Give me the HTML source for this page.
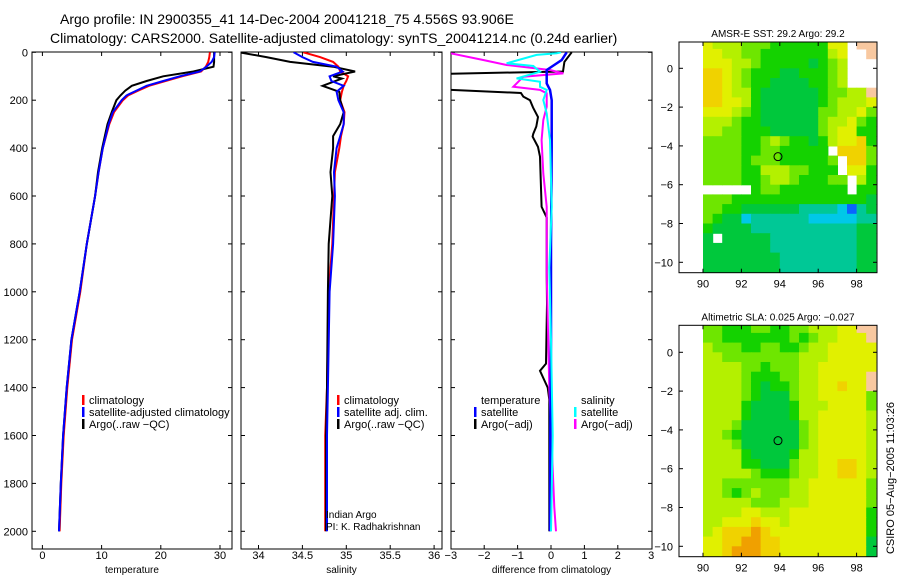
<!DOCTYPE html>
<html><head><meta charset="utf-8"><style>
html,body{margin:0;padding:0;background:#fff;}
svg{display:block;font-family:"Liberation Sans",sans-serif;}
</style></head><body>
<svg id="fig" width="900" height="580" viewBox="0 0 900 580">
<text x="60" y="24" font-size="14">Argo profile: IN 2900355_41 14-Dec-2004 20041218_75 4.556S 93.906E</text>
<text x="50" y="43" font-size="14">Climatology: CARS2000. Satellite-adjusted climatology: synTS_20041214.nc (0.24d earlier)</text>
<g id="plots"></g>
</svg>
<script>
// ---------- profile data ----------
const tempClimDepth = [0,20,40,60,80,100,120,140,160,180,200,250,300,400,500,600,800,1000,1200,1400,1600,1800,2000];
const tempClim      = [28.3,28.2,28.0,27.6,26.8,23.6,20.8,18.0,16.2,14.5,13.6,12.1,11.3,10.2,9.5,8.9,7.5,6.4,5.0,4.2,3.6,3.2,2.9];
const tempSat       = [29.1,29.0,28.6,27.7,26.6,23.2,20.4,17.6,15.9,14.2,13.4,11.9,11.2,10.2,9.5,8.9,7.5,6.3,4.9,4.1,3.5,3.1,2.8];
const tempArgo      = [29.0,29.0,29.0,28.9,25.5,20.4,17.6,15.1,14.0,13.2,12.5,11.7,11.0,10.1,9.4,8.9,7.5,6.3,4.9,4.1,3.5,3.1,2.8];

const salDepth = [0,20,40,60,80,100,120,140,165,200,250,300,350,400,500,600,800,1000,1400,1600,2000];
const salClim  = [34.51,34.70,34.85,34.91,34.93,35.02,35.00,34.97,34.95,34.93,34.98,34.97,34.94,34.92,34.87,34.86,34.84,34.80,34.78,34.76,34.76];
const salSat   = [34.40,34.50,34.62,34.89,34.96,34.81,34.83,34.97,34.89,34.91,34.97,34.97,34.93,34.89,34.86,34.87,34.85,34.81,34.79,34.78,34.78];
const salArgoDepth = [0,20,40,60,80,100,110,140,165,200,250,300,350,400,500,600,800,1000,1400,1600,2000];
const salArgo  = [33.78,34.09,34.36,34.85,35.10,34.85,34.95,34.73,34.92,34.93,34.97,34.93,34.85,34.85,34.82,34.84,34.80,34.79,34.78,34.77,34.77];

const dTempSatDepth = [0,32,74,130,157,200,400,800,1200,1600,2000];
const dTempSat      = [0.47,0.32,-0.13,-0.13,-0.03,0.02,0.02,0.0,0.0,-0.02,-0.03];
const dTempArgoDepth = [0,40,80,90,155,170,185,200,230,270,310,340,352,395,436,645,690,920,1050,1300,1330,1400,1450,2000];
const dTempArgo      = [0.62,0.40,0.36,-3.3,-3.3,-0.9,-0.83,-0.63,-0.54,-0.39,-0.44,-0.53,-0.55,-0.39,-0.33,-0.28,-0.13,-0.13,-0.12,-0.15,-0.33,-0.1,-0.05,-0.05];
const dSalSatDepth = [0,4,11,46,57,81,109,123,144,157,199,255,366,645,900,1200,1600,2000];
const dSalSat      = [0.3,0.17,-0.43,-1.33,-0.53,-0.33,-1.03,-0.33,-0.33,-0.13,-0.23,-0.13,-0.03,0.02,-0.05,0.0,0.05,0.0];
const dSalArgoDepth = [0,4,32,53,74,88,102,144,157,171,227,283,366,506,645,923,1400,1900,2000];
const dSalArgo      = [-3.2,-3.0,-2.03,-1.33,-0.03,0.37,-0.83,-1.13,-0.33,-0.13,-0.13,-0.23,-0.28,-0.23,-0.13,-0.13,-0.05,0.1,0.15];

const depthTicks = [0,200,400,600,800,1000,1200,1400,1600,1800,2000];
const tempTicks = [0,10,20,30];
const salTicks = [34,34.5,35,35.5,36];
const salTickLabels = ["34","34.5","35","35.5","36"];
const diffTicks = [-3,-2,-1,0,1,2,3];
const diffTickLabels = ["\u22123","\u22122","\u22121","0","1","2","3"];

// ---------- map data (0.5 deg cells, lon 90..99, lat 1.5..-10.5) ----------
const sstRows = [
"766655544444477.LL","776655444444467..L","777665444443456...","887654443344456...",
"887654433334456...","88766433333345566L","887764333333456667","777654333333556675",
"666544333333566754","665544433333567744","555544565443467784","5555445544444.8885",
"55554555444445.885","55554466655444.774","555544566544455.64",".....4554444444.44",
"555444444444444443","554433333322221023","543312222221111122","433332222222222233",
"3.3333322222222233","333333322222222233","333333332222222233","333333332222222233"];
const slaRows = [
"5544455445566677LL","55444444454566777L","655544554456677777","665555555566677777",
"666655455566777777","66665444556677777L","66665434456677877L","666654333566777775",
"666643333466677775","666643333466777776","666533333356777776","665433333356777776",
"666533333356777776","666643333466777776","666644333566778876","666665444566778876",
"665555555667777775","665456555667777775","666665556667777775","666677666777777774",
"667778776777777774","678889877777777774","778899887777777773","778999887777777773"];
const palette = ["#0a64ff","#00c8e8","#00c896","#00c83c","#14d200","#6ee600","#b4f000","#e1f000","#f0d200","#f0a000"];
const mapLonTicks = [90,92,94,96,98];
const mapLatTicks = [0,-2,-4,-6,-8,-10];
const argoLon = 93.906, argoLat = -4.556;

// ---------- helpers ----------
const NS = "http://www.w3.org/2000/svg";
const root = document.getElementById("plots");
function mk(tag, attrs, parent){ const e=document.createElementNS(NS,tag); for(const k in attrs) e.setAttribute(k,attrs[k]); (parent||root).appendChild(e); return e; }
function txt(x,y,s,size,anchor,parent){ const t=mk("text",{x:x,y:y,"font-size":size,"text-anchor":anchor||"start"},parent); t.textContent=s; return t; }

const TOP=52, BOT=549;
const yD = d => 52.3 + d*0.2395;

function panel(id, x0, x1, xScale, ticks, labels, xlabel){
  const g = mk("g",{});
  
  
  const cp = mk("clipPath",{id:"clip-"+id},g);
  mk("rect",{x:x0,y:TOP,width:x1-x0,height:BOT-TOP},cp);
  const frame = mk("rect",{x:x0,y:TOP,width:x1-x0,height:BOT-TOP,fill:"none",stroke:"#000","stroke-width":1},g);
  
  
  ticks.forEach((v,i)=>{
    const x=xScale(v);
    if(x>x0+1 && x<x1-1){
      mk("line",{x1:x,x2:x,y1:BOT,y2:BOT-4,stroke:"#000"},g);
      mk("line",{x1:x,x2:x,y1:TOP,y2:TOP+4,stroke:"#000"},g);
    }
    const t=txt(x,559,labels[i],11,"middle",g);
    
    
  });
  depthTicks.forEach(d=>{
    mk("line",{x1:x0,x2:x0+4,y1:yD(d),y2:yD(d),stroke:"#000"},g);
    mk("line",{x1:x1,x2:x1-4,y1:yD(d),y2:yD(d),stroke:"#000"},g);
  });
  const xl=txt((x0+x1)/2,573,xlabel,10,"middle",g);
  
  
  return g;
}
function line(g, id, depths, vals, xScale, color, w){
  const pts = depths.map((d,i)=>xScale(vals[i]).toFixed(1)+","+yD(d).toFixed(1)).join(" ");
  const p = mk("polyline",{points:pts,fill:"none",stroke:color,"stroke-width":w||2,"clip-path":"url(#clip-"+id+")"},g);
  return p;
}
function legend(g, x, y, color, label){
  if(color){ const m=mk("rect",{x:x,y:y-9,width:2.5,height:10,fill:color},g);
    
     }
  const t=txt(x+7,y,label,11,"start",g);
  
  
}

// Panel 1: temperature
const xT = v => 42.4 + 5.92*v;
const g1 = panel("temperature",32,232,xT,tempTicks,tempTicks.map(String),"temperature");
depthTicks.forEach(d=>{ const t=txt(28,yD(d)+4,String(d),11,"end",g1);
  
   });
const l1a=line(g1,"temperature",tempClimDepth,tempClim,xT,"#ff0000");
 
const l1c=line(g1,"temperature",tempClimDepth,tempArgo,xT,"#000000");
 
const l1b=line(g1,"temperature",tempClimDepth,tempSat,xT,"#0000ff");
 
legend(g1,82,404,"#ff0000","climatology");
legend(g1,82,416,"#0000ff","satellite-adjusted climatology");
legend(g1,82,428,"#000000","Argo(..raw \u2212QC)");

// Panel 2: salinity
const xS = v => 258.5 + 87.8*(v-34);
const g2 = panel("salinity",241,442,xS,salTicks,salTickLabels,"salinity");
const l2a=line(g2,"salinity",salDepth,salClim,xS,"#ff0000");
 
const l2c=line(g2,"salinity",salArgoDepth,salArgo,xS,"#000000");
 
const l2b=line(g2,"salinity",salDepth,salSat,xS,"#0000ff");
 
legend(g2,337,404,"#ff0000","climatology");
legend(g2,337,416,"#0000ff","satellite adj. clim.");
legend(g2,337,428,"#000000","Argo(..raw \u2212QC)");
const ia=txt(326,518,"Indian Argo",10,"start",g2);
 
const pi=txt(326,530,"PI: K. Radhakrishnan",10,"start",g2);
 

// Panel 3: differences
const xDf = v => 551 + 33.4*v;
const g3 = panel("difference",451,652,xDf,diffTicks,diffTickLabels,"difference from climatology");
const l3a=line(g3,"difference",dTempArgoDepth,dTempArgo,xDf,"#000000");
 
const l3d=line(g3,"difference",dSalArgoDepth,dSalArgo,xDf,"#ff00ff");
 
const l3b=line(g3,"difference",dTempSatDepth,dTempSat,xDf,"#0000ff",2.5);
 
const l3c=line(g3,"difference",dSalSatDepth,dSalSat,xDf,"#00ffff");
 
legend(g3,474,404,null,"temperature");
legend(g3,474,416,"#0000ff","satellite");
legend(g3,474,428,"#000000","Argo(\u2212adj)");
legend(g3,574,404,null,"salinity");
legend(g3,574,416,"#00ffff","satellite");
legend(g3,574,428,"#ff00ff","Argo(\u2212adj)");

// ---------- maps ----------
function drawMap(id, rows, top, bottom, zeroY, title){
  const L=679, R=877;
  const kx = 19.2, x90 = 703;
  const kyy = 19.4;
  const X = lon => x90 + (lon-90)*kx;
  const Y = lat => zeroY - lat*kyy;
  const g = mk("g",{});
  
  
  const cp = mk("clipPath",{id:"clip-"+id},g);
  mk("rect",{x:L,y:top,width:R-L,height:bottom-top},cp);
  const cells = mk("g",{"clip-path":"url(#clip-"+id+")"},g);
  rows.forEach((row,r)=>{
    for(let c=0;c<row.length;c++){
      const ch=row[c]; if(ch==="."||ch===" ") continue;
      const lon=90+0.5*c, lat=1.5-0.5*r;
      const fill = ch==="L" ? "#f8c8a0" : palette[+ch];
      const cell = mk("rect",{x:X(lon).toFixed(1),y:Y(lat).toFixed(1),width:(kx*0.5+0.6).toFixed(1),height:(kyy*0.5+0.6).toFixed(1),fill:fill},cells);
      
      
    }
  });
  const fr=mk("rect",{x:L,y:top,width:R-L,height:bottom-top,fill:"none",stroke:"#000"},g);
   
  mapLonTicks.forEach(v=>{
    mk("line",{x1:X(v),x2:X(v),y1:bottom,y2:bottom-4,stroke:"#000"},g);
    mk("line",{x1:X(v),x2:X(v),y1:top,y2:top+4,stroke:"#000"},g);
    const t=txt(X(v),bottom+15,String(v),11,"middle",g);
     
  });
  mapLatTicks.forEach(v=>{
    mk("line",{x1:L,x2:L+4,y1:Y(v),y2:Y(v),stroke:"#000"},g);
    mk("line",{x1:R,x2:R-4,y1:Y(v),y2:Y(v),stroke:"#000"},g);
    const t=txt(L-6,Y(v)+4,v<0?"\u2212"+(-v):String(v),11,"end",g);
     
  });
  const c=mk("circle",{cx:X(argoLon),cy:Y(argoLat),r:4,fill:"none",stroke:"#000","stroke-width":1},g);
   
  const t=txt((L+R)/2,top-5,title,10,"middle",g);
   
}
drawMap("sst", sstRows, 42, 272.7, 68.3, "AMSR-E SST: 29.2 Argo: 29.2");
drawMap("sla", slaRows, 325.3, 556.7, 352.3, "Altimetric SLA: 0.025 Argo: \u22120.027");

const stamp = txt(0,0,"CSIRO 05\u2212Aug\u22122005 11:03:26",11,"middle");
stamp.setAttribute("transform","translate(894,478) rotate(-90)");


</script>
</body></html>
